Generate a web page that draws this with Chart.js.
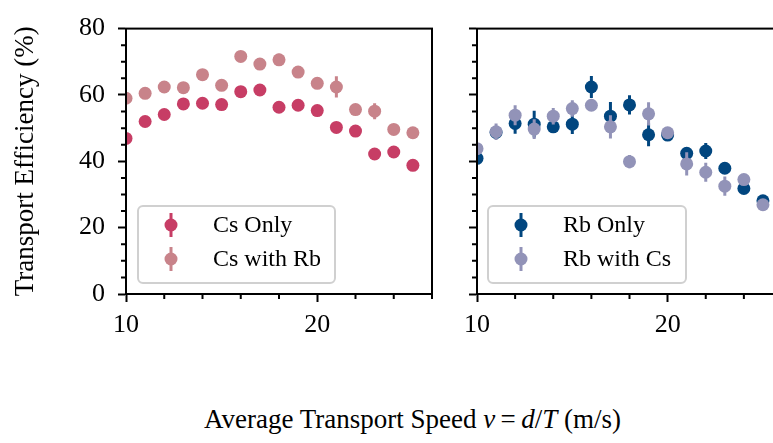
<!DOCTYPE html>
<html>
<head>
<meta charset="utf-8">
<script src="https://cdn.jsdelivr.net/npm/chart.js@4.4.1/dist/chart.umd.min.js"></script>
<style>
  html, body { margin: 0; padding: 0; background: #fff; overflow: hidden; }
  #wrap { position: relative; width: 773px; height: 443px; overflow: hidden; }
  #left { position: absolute; left: 0; top: 0; }
  #right { position: absolute; left: 440px; top: 0; }
  #xlabel { position: absolute; left: 0; width: 825px; top: 406px; text-align: center;
            font-family: "Liberation Serif"; font-size: 27px; line-height: 1; color: #000; }
</style>
</head>
<body>
<div id="wrap">
  <div id="left"><canvas id="leftChart" width="440" height="340"></canvas></div>
  <div id="right"><canvas id="rightChart" width="350" height="340"></canvas></div>
  <div id="xlabel">Average Transport Speed <i>v</i>&#8201;=&#8201;<i>d</i>/<i>T</i> (m/s)</div>
</div>
<script>
const speeds = [10, 11, 12, 13, 14, 15, 16, 17, 18, 19, 20, 21, 22, 23, 24, 25];

const csOnly = [46.9, 52.0, 54.1, 57.3, 57.5, 57.1, 61.0, 61.5, 56.3, 56.9, 55.3, 50.2, 49.1, 42.2, 42.8, 38.8];
const csOnlyErr = [0.6, 0.5, 0.6, 0.6, 0.5, 0.6, 0.6, 0.7, 0.6, 0.6, 0.5, 0.6, 0.5, 0.6, 0.5, 0.6];
const csWithRb = [59.0, 60.5, 62.4, 62.2, 66.1, 62.9, 71.6, 69.3, 70.6, 66.9, 63.5, 62.4, 55.6, 55.1, 49.6, 48.6];
const csWithRbErr = [1.0, 0.8, 1.5, 1.3, 0.8, 1.3, 0.8, 1.5, 1.8, 1.5, 0.9, 3.2, 0.8, 2.4, 0.8, 1.3];

const rbOnly = [40.9, 48.7, 51.4, 51.2, 50.4, 51.2, 62.4, 53.6, 57.0, 48.0, 47.9, 42.4, 43.1, 37.9, 31.8, 28.1];
const rbOnlyErr = [1.5, 1.5, 3.1, 4.0, 1.8, 3.0, 3.3, 4.3, 2.9, 3.5, 1.2, 1.5, 2.4, 1.0, 1.5, 1.5];
const rbWithCs = [43.8, 48.9, 53.9, 49.7, 53.6, 55.9, 56.9, 50.4, 39.9, 54.3, 48.6, 39.2, 36.7, 32.5, 34.5, 26.9];
const rbWithCsErr = [1.2, 2.5, 3.0, 3.0, 2.5, 2.5, 1.5, 3.5, 2.0, 3.5, 1.5, 3.5, 2.9, 2.9, 1.5, 1.5];

const FONT = "Liberation Serif";

const toPoints = (ys) => ys.map((y, i) => ({ x: speeds[i], y: y }));

// vertical error bars, drawn just under each dataset's points
const errorBars = {
  id: "errorBars",
  beforeDatasetDraw(chart, args) {
    const ds = chart.data.datasets[args.index];
    if (!ds.errors) return;
    const { ctx, chartArea, scales } = chart;
    ctx.save();
    ctx.beginPath();
    ctx.rect(chartArea.left, chartArea.top, chartArea.width, chartArea.height);
    ctx.clip();
    ctx.strokeStyle = ds.backgroundColor;
    ctx.lineWidth = 3;
    ds.data.forEach((p, i) => {
      const x = scales.x.getPixelForValue(p.x);
      ctx.beginPath();
      ctx.moveTo(x, scales.y.getPixelForValue(p.y - ds.errors[i]));
      ctx.lineTo(x, scales.y.getPixelForValue(p.y + ds.errors[i]));
      ctx.stroke();
    });
    ctx.restore();
  },
};

// box around the axes + short minor ticks
const frame = {
  id: "frame",
  afterDatasetsDraw(chart) {
    const { ctx, chartArea, scales } = chart;
    const { left, right, top, bottom } = chartArea;
    ctx.save();
    ctx.strokeStyle = "#000";
    ctx.lineWidth = 2;
    ctx.strokeRect(left, top, right - left, bottom - top);
    ctx.beginPath();
    scales.x.ticks.forEach((t) => {
      if (t.value % 10 !== 0) {
        const x = scales.x.getPixelForValue(t.value);
        ctx.moveTo(x, bottom);
        ctx.lineTo(x, bottom + 5);
      }
    });
    scales.y.ticks.forEach((t) => {
      if (t.value % 20 !== 0) {
        const y = scales.y.getPixelForValue(t.value);
        ctx.moveTo(left, y);
        ctx.lineTo(left - 5, y);
      }
    });
    ctx.stroke();
    ctx.restore();
  },
};

// matplotlib-like framed legend in the lower left of the axes
const boxLegend = {
  id: "boxLegend",
  afterDraw(chart, args, opts) {
    const { ctx, chartArea } = chart;
    const bx = chartArea.left + opts.offsetX;
    const by = chartArea.bottom - 11 - 77;
    const bw = opts.width;
    const bh = 77;
    ctx.save();
    ctx.beginPath();
    ctx.roundRect(bx, by, bw, bh, 5);
    ctx.fillStyle = "rgba(255,255,255,0.8)";
    ctx.fill();
    ctx.strokeStyle = "#d0d0d0";
    ctx.lineWidth = 2;
    ctx.stroke();
    chart.data.datasets.forEach((ds, i) => {
      const cy = by + 19 + i * 34;
      const mx = bx + 33;
      ctx.strokeStyle = ds.backgroundColor;
      ctx.lineWidth = 3;
      ctx.beginPath();
      ctx.moveTo(mx, cy - 12);
      ctx.lineTo(mx, cy + 12);
      ctx.stroke();
      ctx.fillStyle = ds.backgroundColor;
      ctx.beginPath();
      ctx.arc(mx, cy, 6.5, 0, Math.PI * 2);
      ctx.fill();
      ctx.fillStyle = "#000";
      ctx.font = "24px " + FONT;
      ctx.textBaseline = "middle";
      ctx.fillText(ds.label, bx + 75, cy + 1);
    });
    ctx.restore();
  },
};

function makeScales(showY) {
  return {
    x: {
      type: "linear",
      min: 10,
      max: 26,
      afterFit: (s) => { s.height = 46; },
      ticks: {
        stepSize: 2,
        autoSkip: false,
        maxRotation: 0,
        padding: 8,
        color: "#000",
        font: { family: FONT, size: 26 },
        callback: (v) => (v % 10 === 0 ? v : ""),
      },
      grid: {
        drawOnChartArea: false,
        tickLength: 8,
        tickWidth: 2,
        tickColor: (c) => (c.tick && c.tick.value % 10 === 0 ? "#000" : "rgba(0,0,0,0)"),
      },
      border: { color: "#000", width: 2 },
    },
    y: {
      type: "linear",
      min: 0,
      max: 80,
      afterFit: (s) => { s.width = showY ? 126 : 37; },
      title: {
        display: showY,
        text: "Transport Efficiency (%)",
        color: "#000",
        font: { family: FONT, size: 27 },
        padding: { top: 10, bottom: 0 },
      },
      ticks: {
        stepSize: 5,
        autoSkip: false,
        padding: 13,
        color: "#000",
        font: { family: FONT, size: 26 },
        callback: (v) => (showY && v % 20 === 0 ? v : ""),
      },
      grid: {
        drawOnChartArea: false,
        tickLength: 8,
        tickWidth: 2,
        tickColor: (c) => (c.tick && c.tick.value % 20 === 0 ? "#000" : "rgba(0,0,0,0)"),
      },
      border: { color: "#000", width: 2 },
    },
  };
}

function dataset(label, values, errors, color, order) {
  return {
    label: label,
    data: toPoints(values),
    errors: errors,
    backgroundColor: color,
    borderWidth: 0,
    pointRadius: 6.5,
    pointHoverRadius: 6.5,
    clip: 0,
    order: order,
  };
}

new Chart(document.getElementById("leftChart"), {
  type: "scatter",
  data: {
    datasets: [
      dataset("Cs Only", csOnly, csOnlyErr, "#c73d65", 1),
      dataset("Cs with Rb", csWithRb, csWithRbErr, "#c8838a", 0),
    ],
  },
  options: {
    responsive: false,
    animation: false,
    layout: { padding: { top: 22, right: 8, left: 0, bottom: 0 } },
    scales: makeScales(true),
    plugins: {
      legend: { display: false },
      tooltip: { enabled: false },
      boxLegend: { offsetX: 12, width: 197 },
    },
  },
  plugins: [errorBars, frame, boxLegend],
});

new Chart(document.getElementById("rightChart"), {
  type: "scatter",
  data: {
    datasets: [
      dataset("Rb Only", rbOnly, rbOnlyErr, "#01467f", 1),
      dataset("Rb with Cs", rbWithCs, rbWithCsErr, "#9293b8", 0),
    ],
  },
  options: {
    responsive: false,
    animation: false,
    layout: { padding: { top: 22, right: 7, left: 0, bottom: 0 } },
    scales: makeScales(false),
    plugins: {
      legend: { display: false },
      tooltip: { enabled: false },
      boxLegend: { offsetX: 11, width: 198 },
    },
  },
  plugins: [errorBars, frame, boxLegend],
});
</script>
</body>
</html>
